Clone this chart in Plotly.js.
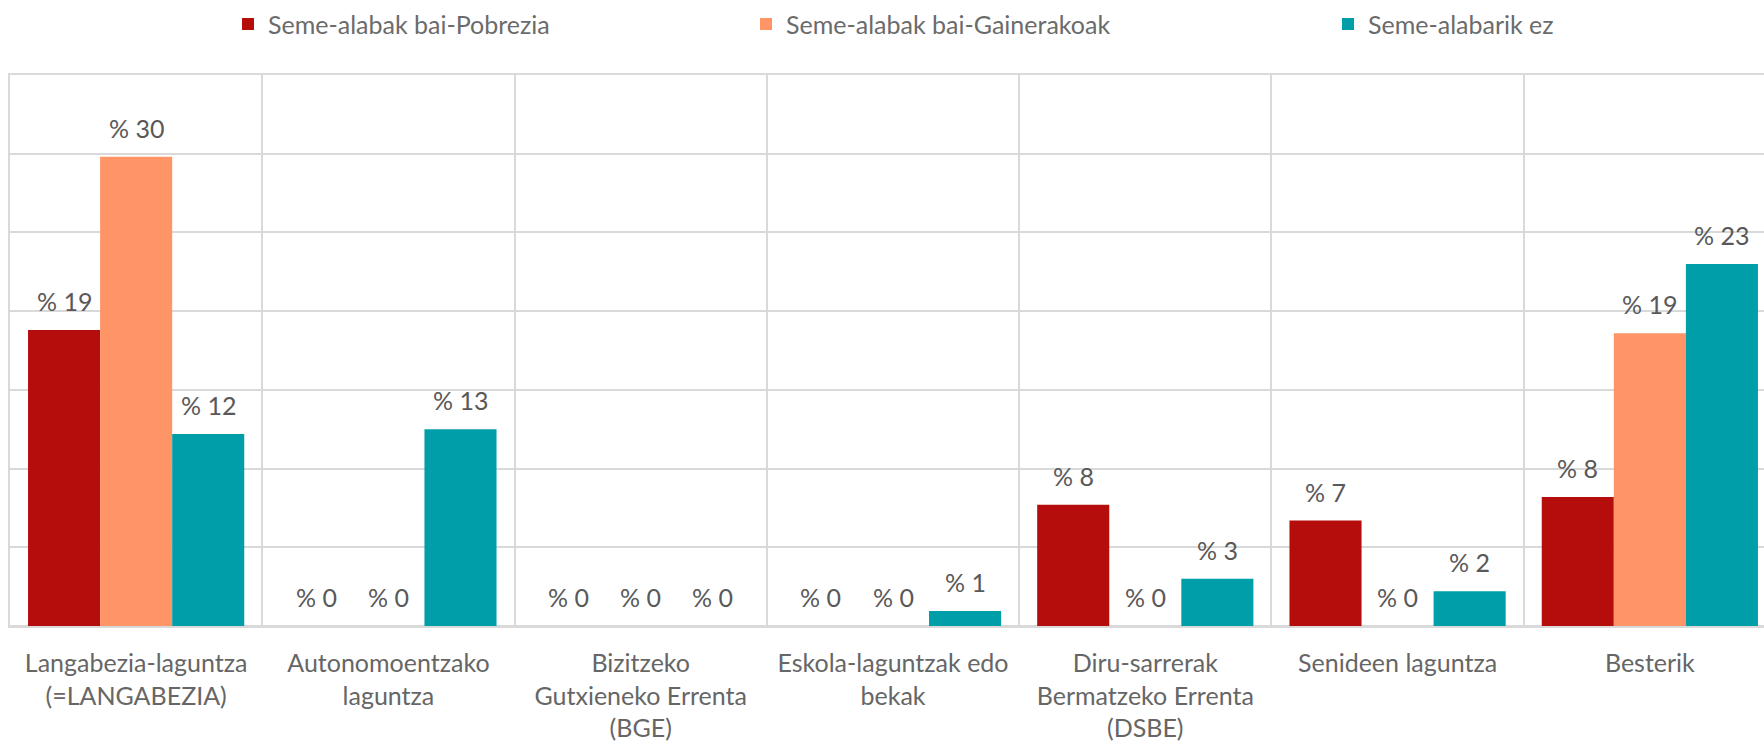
<!DOCTYPE html>
<html>
<head>
<meta charset="utf-8">
<script src="https://cdn.plot.ly/plotly-3.0.1.min.js"></script>
<style>
html, body { margin: 0; padding: 0; background: #fff; overflow: hidden; width: 1764px; height: 745px; }
#chart { width: 1776px; height: 745px; }
</style>
</head>
<body>
<div id="chart"></div>
<script>
// ---- data ----
const categories = [
  "Langabezia-laguntza<br>(=LANGABEZIA)",
  "Autonomoentzako<br>laguntza",
  "Bizitzeko<br>Gutxieneko Errenta<br>(BGE)",
  "Eskola-laguntzak edo<br>bekak",
  "Diru-sarrerak<br>Bermatzeko Errenta<br>(DSBE)",
  "Senideen laguntza",
  "Besterik"
];
const seriesNames = ["Seme-alabak bai-Pobrezia", "Seme-alabak bai-Gainerakoak", "Seme-alabarik ez"];
const pobrezia    = [18.8, 0, 0, 0, 7.7, 6.7, 8.2];
const gainerakoak = [29.8, 0, 0, 0, 0, 0, 18.6];
const semeEz      = [12.2, 12.5, 0, 0.95, 3.0, 2.2, 23.0];
const yTicks = [0, 5, 10, 15, 20, 25, 30, 35];

// ---- style ----
const colors = ["#B50C0C", "#FF9466", "#009EA8"];
const FONT = "Lato, 'Open Sans', sans-serif";
const W = 1776, H = 745;
const margin = {l: 10, r: 0, t: 75, b: 119};
const bargap = 0.143;
const allSeries = [pobrezia, gainerakoak, semeEz];

const plotW = W - margin.l - margin.r;
const catPx = plotW / categories.length;
const barPx = catPx * (1 - bargap) / allSeries.length;

const traces = allSeries.map((vals, i) => ({
  type: "bar",
  name: seriesNames[i],
  x: categories,
  y: vals,
  marker: {color: colors[i], line: {width: 0}},
  legend: i === 0 ? "legend" : ("legend" + (i + 1)),
  hoverinfo: "skip"
}));

const annotations = [];
allSeries.forEach((vals, i) => {
  vals.forEach((v, j) => {
    annotations.push({
      x: categories[j], y: v, xref: "x", yref: "y",
      text: "% " + Math.round(v),
      showarrow: false,
      yanchor: "bottom",
      xanchor: "center",
      xshift: (i - (allSeries.length - 1) / 2) * barPx,
      yshift: 12,
      font: {family: FONT, size: 25, color: "#595959"}
    });
  });
});

const legendBase = {
  orientation: "h", yanchor: "middle", xanchor: "left", y: 1.092,
  font: {family: FONT, size: 25, color: "#6b6b6b"},
  bgcolor: "rgba(0,0,0,0)", itemclick: false
};
const legendX = px => (px - margin.l) / plotW;

const GRID = "#d9d9d9";
const layout = {
  width: W, height: H,
  margin: margin,
  paper_bgcolor: "#fff", plot_bgcolor: "#fff",
  barmode: "group", bargap: bargap, bargroupgap: 0,
  font: {family: FONT, size: 25, color: "#666666"},
  xaxis: {
    type: "category",
    range: [-0.5, categories.length - 0.5],
    tickson: "boundaries",
    showgrid: true, gridcolor: GRID, gridwidth: 2,
    showline: true, mirror: true, linecolor: GRID, linewidth: 2,
    ticks: "",
    ticklabelstandoff: 14,
    tickfont: {family: FONT, size: 25, color: "#666666"},
    fixedrange: true
  },
  yaxis: {
    range: [0, 35],
    tickvals: yTicks,
    showticklabels: false,
    showgrid: true, gridcolor: GRID, gridwidth: 2,
    zeroline: true, zerolinecolor: GRID, zerolinewidth: 2,
    showline: true, mirror: true, linecolor: GRID, linewidth: 2,
    ticks: "",
    fixedrange: true
  },
  legend:  Object.assign({}, legendBase, {x: legendX(228)}),
  legend2: Object.assign({}, legendBase, {x: legendX(746)}),
  legend3: Object.assign({}, legendBase, {x: legendX(1328)}),
  annotations: annotations,
  showlegend: true
};

Plotly.newPlot("chart", traces, layout, {displayModeBar: false, staticPlot: true});
</script>
</body>
</html>
